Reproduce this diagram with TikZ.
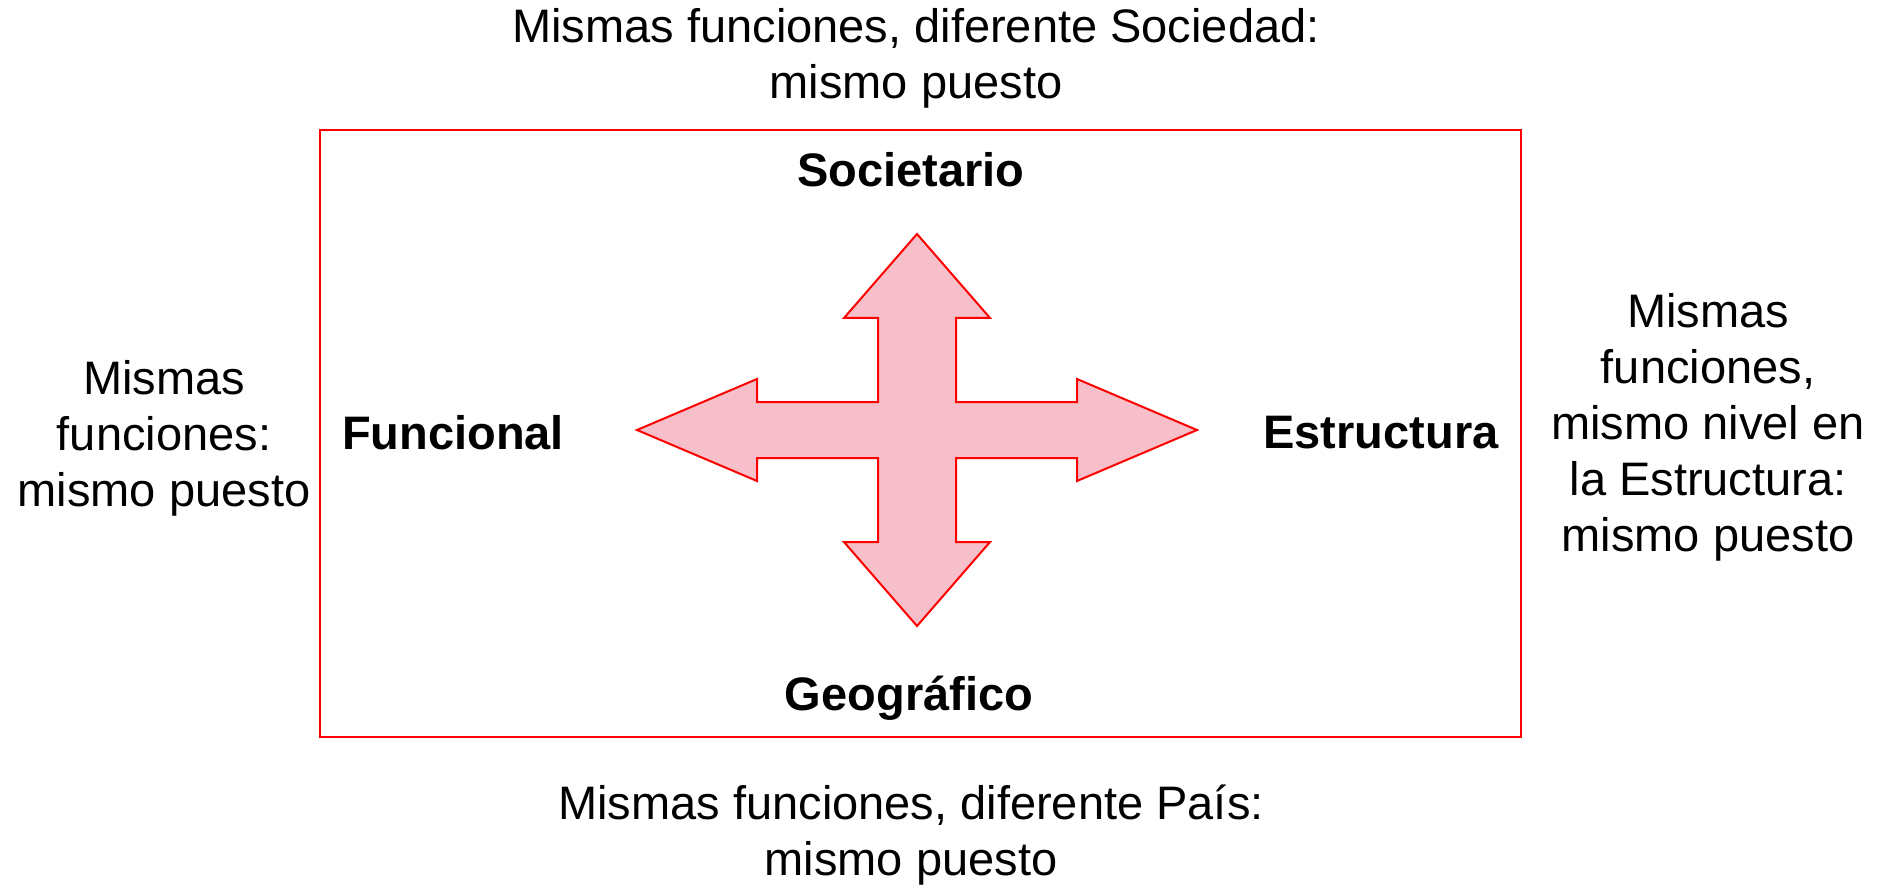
\documentclass[tikz,border=0pt]{standalone}
\usepackage{fontspec}
\setmainfont{Liberation Sans}
\usetikzlibrary{positioning}

\definecolor{marcoRojo}{RGB}{255,0,0}
\definecolor{flechaRosa}{RGB}{246,191,202}

\newcommand\crossX{917}
\newcommand\crossY{430}
\newcommand\shaftV{39}
\newcommand\shaftH{28}
\newcommand\headV{73}
\newcommand\headH{51}
\newcommand\baseV{112}
\newcommand\tipV{196}
\newcommand\baseH{160}
\newcommand\tipH{280}

\begin{document}
\begin{tikzpicture}[x=1pt,y=-1pt,
    textoLado/.style={align=center,font=\fontsize{47}{56}\selectfont},
    rotulo/.style={font=\fontsize{47}{56}\selectfont\bfseries},
    marco/.style={draw=marcoRojo,line width=2pt,minimum width=1201pt,minimum height=607pt,inner sep=0pt}]

    \useasboundingbox (0,0) rectangle (1888,885);

    \node[marco] (marco) at (920.5,433.5) {};

    % cross arrow
    \filldraw[color=marcoRojo, fill=flechaRosa, line width=2pt, line join=miter, shift={(\crossX,\crossY)}]
      (0,-\tipV) -- (\headV,-\baseV) -- (\shaftV,-\baseV) -- (\shaftV,-\shaftH)
      -- (\baseH,-\shaftH) -- (\baseH,-\headH) -- (\tipH,0) -- (\baseH,\headH) -- (\baseH,\shaftH)
      -- (\shaftV,\shaftH) -- (\shaftV,\baseV) -- (\headV,\baseV) -- (0,\tipV)
      -- (-\headV,\baseV) -- (-\shaftV,\baseV) -- (-\shaftV,\shaftH)
      -- (-\baseH,\shaftH) -- (-\baseH,\headH) -- (-\tipH,0) -- (-\baseH,-\headH) -- (-\baseH,-\shaftH)
      -- (-\shaftV,-\shaftH) -- (-\shaftV,-\baseV) -- (-\headV,-\baseV) -- cycle;

    \node[rotulo] (societario) at (911,170) {Societario};
    \node[rotulo] (funcional) at (453,433) {Funcional};
    \node[rotulo] (estructura) at (1381,433) {Estructura};
    \node[rotulo] (geografico) at (909,698) {Geográfico};

    \node[textoLado] (arriba) at (916,58) {Mismas funciones, diferente Sociedad:\\mismo puesto};
    \node[textoLado] (izquierda) at (164,438) {Mismas\\funciones:\\mismo puesto};
    \node[textoLado] (derecha) at (1708,427) {Mismas\\funciones,\\mismo nivel en\\la Estructura:\\mismo puesto};
    \node[textoLado] (abajo) at (911,835) {Mismas funciones, diferente País:\\mismo puesto};

\end{tikzpicture}
\end{document}
